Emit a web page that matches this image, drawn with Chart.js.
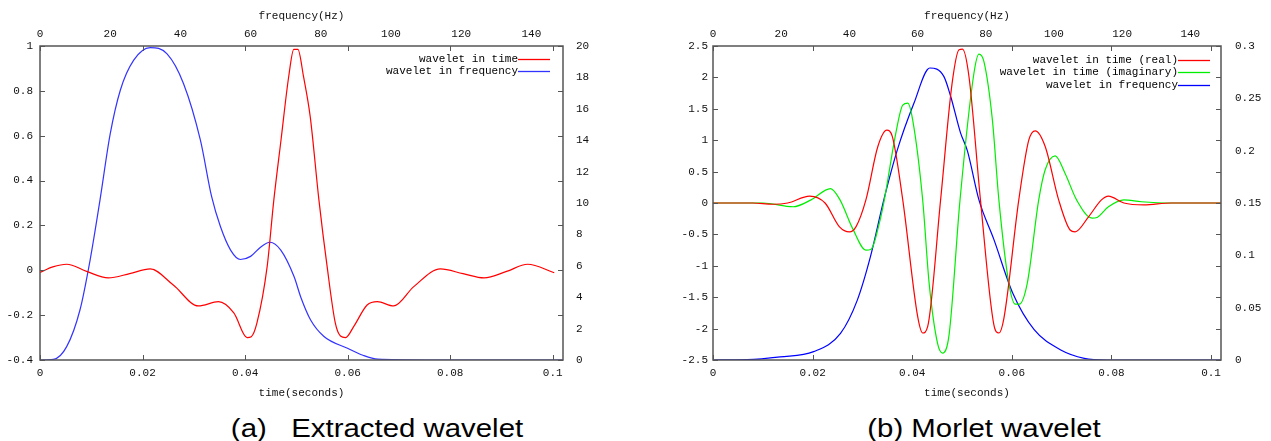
<!DOCTYPE html>
<html>
<head>
<meta charset="utf-8">
<script src="https://cdn.jsdelivr.net/npm/chart.js@4.4.1/dist/chart.umd.min.js"></script>
<style>
  body { margin: 0; background: #fff; width: 1271px; height: 441px; overflow: hidden; position: relative; }
  canvas { position: absolute; top: 0; }
  #chartA { left: 0; }
  #chartB { left: 635px; }
  .caption {
    position: absolute; top: 413px; height: 30px; line-height: 30px;
    font-family: "Liberation Sans", Arial, sans-serif; font-size: 26px; color: #000;
    white-space: pre; transform: translateX(-50%) scaleX(1.13);
  }
</style>
</head>
<body>
<canvas id="chartA" width="635" height="400"></canvas>
<canvas id="chartB" width="636" height="400"></canvas>
<div class="caption" style="left:377px">(a)   Extracted wavelet</div>
<div class="caption" style="left:984px">(b) Morlet wavelet</div>
<script>
// (a) wavelet extraída: tempo (s) x amplitude
const timeA = [0, 0.0025, 0.0052, 0.0091, 0.0133, 0.0175, 0.0215, 0.026, 0.0309, 0.0348, 0.0378, 0.0404, 0.0412, 0.0423,
  0.0443, 0.0456, 0.047, 0.0485, 0.0495, 0.0503, 0.0514, 0.0527, 0.0544, 0.056, 0.0576, 0.0586, 0.0596, 0.0612,
  0.0638, 0.0658, 0.069, 0.0729, 0.0781, 0.0825, 0.0866, 0.091, 0.0951, 0.1003];
const waveTimeA = [-0.01, 0.015, 0.027, -0.005, -0.034, -0.015, 0.006, -0.066, -0.159, -0.14, -0.19, -0.30, -0.296, -0.236,
  0.016, 0.313, 0.58, 0.863, 0.985, 0.985, 0.863, 0.685, 0.313, 0.016, -0.236, -0.293, -0.30, -0.25,
  -0.155, -0.14, -0.159, -0.073, 0.006, -0.015, -0.034, -0.005, 0.027, -0.011];
// (a) espectro: frequência (Hz) x amplitude
const freqA = [0, 3.8, 7.6, 11.4, 14.3, 17.1, 20, 22.9, 26.7, 31.4, 36.2, 40.9, 45.7, 48.9, 51.4, 54.3, 57.1, 60, 62.9,
  65.5, 68.6, 72.4, 74.3, 77.1, 80.9, 87.6, 92, 96.2, 110, 130, 149];
const waveFreqA = [0, 0.04, 0.85, 3.2, 6.4, 10.2, 14.4, 17.2, 19.1, 19.9, 19.5, 17.6, 14.0, 10.4, 8.5, 7.0, 6.4, 6.6, 7.2,
  7.5, 7.0, 5.3, 4.0, 2.55, 1.5, 0.75, 0.3, 0.05, 0, 0, 0];

// (b) Morlet: parte real
const timeReal = [0, 0.008, 0.012, 0.015, 0.0194, 0.0225, 0.0254, 0.0274, 0.0287, 0.0307, 0.0331, 0.0349, 0.036, 0.0381,
  0.0411, 0.0421, 0.0431, 0.0457, 0.048, 0.0494, 0.0501, 0.0514, 0.0537, 0.0564, 0.0574, 0.0584, 0.0614, 0.0634,
  0.0647, 0.0667, 0.0694, 0.0717, 0.0727, 0.0754, 0.078, 0.0794, 0.0825, 0.0865, 0.092, 0.102];
const waveReal = [0, 0, -0.02, 0, 0.11, 0, -0.38, -0.46, -0.38, 0.05, 0.9, 1.16, 1.06, 0.05,
  -1.81, -2.07, -1.97, 0.05, 1.9, 2.44, 2.45, 2.01, 0.05, -1.94, -2.07, -1.84, 0.05, 1.0,
  1.15, 0.9, 0.05, -0.43, -0.46, -0.22, 0.05, 0.11, 0, -0.03, 0, 0];
// (b) Morlet: parte imaginária
const timeImag = [0, 0.01, 0.0161, 0.0197, 0.0236, 0.0255, 0.028, 0.0307, 0.0317, 0.0334, 0.0344, 0.0367, 0.0381, 0.0391,
  0.0401, 0.0421, 0.0434, 0.0451, 0.0461, 0.0474, 0.0496, 0.0524, 0.0534, 0.0544, 0.0561, 0.0574, 0.0594, 0.0607,
  0.0615, 0.0631, 0.0654, 0.0667, 0.0687, 0.0707, 0.073, 0.0761, 0.0771, 0.0794, 0.0825, 0.086, 0.092, 0.102];
const waveImag = [0, 0, -0.06, 0.05, 0.23, 0.05, -0.4, -0.75, -0.74, -0.32, 0.05, 1.11, 1.56, 1.59,
  1.32, 0.05, -1.28, -2.24, -2.39, -2.1, 0.05, 2.07, 2.37, 2.25, 1.32, 0.05, -1.28, -1.61,
  -1.61, -1.28, 0.05, 0.53, 0.75, 0.47, 0.05, -0.24, -0.23, -0.06, 0.05, 0.02, 0, 0];
// (b) Morlet: espectro
const freqB = [0, 10, 19.7, 29.5, 37.4, 42.3, 46.2, 50.1, 54, 58.9, 63.6, 67.7, 69.7, 72.6, 74.6, 78, 82.4, 87.9, 94.2,
  102, 108.9, 115.5, 130, 149];
const waveFreqB = [0, 0.0003, 0.003, 0.008, 0.0255, 0.057, 0.099, 0.153, 0.2, 0.245, 0.279, 0.271, 0.252, 0.217, 0.2,
  0.153, 0.115, 0.064, 0.029, 0.0096, 0.0016, 0, 0, 0];

const toPts = (xs, ys) => xs.map((x, i) => ({ x, y: ys[i] }));
const fmt = v => String(+(+v).toFixed(4));
const MONO = "'Liberation Mono', 'DejaVu Sans Mono', monospace";

Chart.defaults.font.family = MONO;
Chart.defaults.font.size = 11;
Chart.defaults.color = '#111';

// moldura + marcas de escala para dentro, estilo gnuplot, e legenda à direita
const gnuFrame = {
  id: 'gnuFrame',
  afterDatasetsDraw(chart, args, opts) {
    const { ctx, chartArea: a, scales } = chart;
    ctx.save();
    ctx.strokeStyle = '#555';
    ctx.lineWidth = 1;
    ctx.beginPath();
    scales.x.ticks.forEach(t => {
      const px = Math.round(scales.x.getPixelForValue(t.value)) + 0.5;
      ctx.moveTo(px, a.bottom); ctx.lineTo(px, a.bottom - 5);
      ctx.moveTo(px, a.top); ctx.lineTo(px, a.top + 5);
    });
    scales.y.ticks.forEach(t => {
      const py = Math.round(scales.y.getPixelForValue(t.value)) + 0.5;
      ctx.moveTo(a.left, py); ctx.lineTo(a.left + 5, py);
      ctx.moveTo(a.right, py); ctx.lineTo(a.right - 5, py);
    });
    ctx.stroke();
    ctx.lineWidth = 1.5;
    ctx.strokeRect(a.left, a.top, a.right - a.left, a.bottom - a.top);

    // legenda
    ctx.font = '11px ' + MONO;
    ctx.textAlign = 'right';
    ctx.textBaseline = 'middle';
    chart.data.datasets.forEach((ds, i) => {
      const y = opts.rows[i];
      ctx.fillStyle = '#000';
      ctx.fillText(ds.label, opts.textRight, y);
      ctx.strokeStyle = ds.borderColor;
      ctx.lineWidth = 1.3;
      ctx.beginPath();
      ctx.moveTo(opts.textRight, y + 0.5);
      ctx.lineTo(opts.textRight + 32, y + 0.5);
      ctx.stroke();
    });
    ctx.restore();
  }
};

function lineSet(label, data, color, xId, yId) {
  return {
    label, data, borderColor: color, borderWidth: 1.2, pointRadius: 0,
    cubicInterpolationMode: 'monotone', xAxisID: xId, yAxisID: yId
  };
}

function makeScales(c) {
  const tick = (pad) => ({ padding: pad, autoSkip: false, includeBounds: false, callback: fmt, maxRotation: 0 });
  return {
    x: {
      type: 'linear', position: 'bottom', min: 0, max: 0.102,
      ticks: { ...tick(6), stepSize: 0.02 },
      grid: { display: false, drawTicks: false }, border: { display: false },
      title: { display: true, text: 'time(seconds)', padding: { top: 0, bottom: 0 }, font: { size: 11 } },
      afterFit: s => { s.height = 40; }
    },
    x2: {
      type: 'linear', position: 'top', min: 0, max: 149,
      ticks: { ...tick(5), stepSize: 20 },
      grid: { display: false, drawTicks: false }, border: { display: false },
      title: { display: true, text: 'frequency(Hz)', padding: { top: 9, bottom: 0 }, font: { size: 11 } },
      afterFit: s => { s.height = 46; }
    },
    y: {
      position: 'left', min: c.yMin, max: c.yMax,
      ticks: { ...tick(c.leftPad), stepSize: c.yStep },
      grid: { display: false, drawTicks: false }, border: { display: false },
      afterFit: s => { s.width = c.leftW; }
    },
    y2: {
      position: 'right', min: 0, max: c.y2Max,
      ticks: { ...tick(c.rightPad), stepSize: c.y2Step },
      grid: { display: false, drawTicks: false }, border: { display: false },
      afterFit: s => { s.width = c.rightW; }
    }
  };
}

function baseOptions(c, legend) {
  return {
    responsive: false,
    animation: false,
    devicePixelRatio: 1,
    layout: { padding: 0 },
    plugins: { legend: { display: false }, tooltip: { enabled: false }, gnuFrame: legend },
    scales: makeScales(c)
  };
}

new Chart(document.getElementById('chartA'), {
  type: 'line',
  data: {
    datasets: [
      lineSet('wavelet in time', toPts(timeA, waveTimeA), '#ff0000', 'x', 'y'),
      lineSet('wavelet in frequency', toPts(freqA, waveFreqA), '#3333ff', 'x2', 'y2')
    ]
  },
  options: baseOptions(
    { yMin: -0.4, yMax: 1, yStep: 0.2, y2Max: 20, y2Step: 2, leftW: 40, rightW: 72, leftPad: 7, rightPad: 13 },
    { textRight: 518, rows: [59, 71] }
  ),
  plugins: [gnuFrame]
});

new Chart(document.getElementById('chartB'), {
  type: 'line',
  data: {
    datasets: [
      lineSet('wavelet in time (real)', toPts(timeReal, waveReal), '#ff0000', 'x', 'y'),
      lineSet('wavelet in time (imaginary)', toPts(timeImag, waveImag), '#00ee00', 'x', 'y'),
      lineSet('wavelet in frequency', toPts(freqB, waveFreqB), '#0000ff', 'x2', 'y2')
    ]
  },
  options: baseOptions(
    { yMin: -2.5, yMax: 2.5, yStep: 0.5, y2Max: 0.3, y2Step: 0.05, leftW: 78, rightW: 50, leftPad: 5, rightPad: 14 },
    { textRight: 543, rows: [60, 72, 85] }
  ),
  plugins: [gnuFrame]
});
</script>
</body>
</html>
